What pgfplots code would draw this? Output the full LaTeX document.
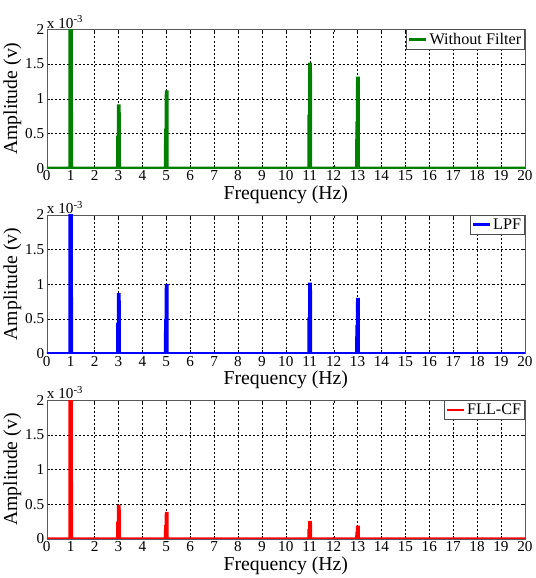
\documentclass[border=0pt]{standalone}
\usepackage{pgfplots}
\pgfplotsset{compat=1.18}
\usepackage{fontspec}
\setmainfont{Liberation Serif}
\definecolor{mgreen}{RGB}{0,128,0}
\pgfplotsset{
  panel/.style={
    width=472pt, height=137pt, scale only axis,
    xmin=0, xmax=20, ymin=0, ymax=2,
    xtick={0,1,...,20}, ytick={0,0.5,1,1.5,2},
    yticklabels={0,0.5,1,1.5,2},
    grid=major, major grid style={black, dashed, line width=0.4pt, dash pattern=on 2pt off 2pt},
    axis line style={gray!70!black},
    tick align=inside, tick style={black}, major tick length=3pt,
    tick label style={font=\fontsize{15}{15}\selectfont},
    xticklabel style={yshift=1pt},
    yticklabel style={xshift=1pt},
    label style={font=\fontsize{19.5}{19.5}\selectfont},
    /pgf/number format/assume math mode=true,
    xlabel={Frequency (Hz)}, ylabel={Amplitude (v)},
    xlabel style={yshift=2pt}, ylabel style={yshift=-3pt},
    legend style={at={(1,1)}, anchor=north east, font=\fontsize{16}{16}\selectfont, draw=black!70, inner sep=1.5pt, row sep=0pt},
    legend image post style={line width=2.4pt},
    legend cell align=left,
    clip=true,
  },
}
\begin{document}
\begin{tikzpicture}
\begin{axis}[panel, name=a1]
\addplot[mgreen, line width=2.8pt, line join=miter] coordinates {
(0,0)(0.96,0)(0.965,2.2)(1.035,2.2)(1.04,0)
(2.96,0)(2.965,0.45)(2.99,0.45)(2.995,0.9)(3.035,0.9)(3.04,0)
(4.96,0)(4.965,0.55)(4.99,0.55)(4.995,1.1)(5.035,1.1)(5.04,0)
(10.96,0)(10.965,0.75)(10.99,0.75)(10.995,1.5)(11.035,1.5)(11.04,0)
(12.96,0)(12.965,0.65)(12.99,0.65)(12.995,1.3)(13.035,1.3)(13.04,0)
(20,0)};
\addlegendentry{Without Filter}
\end{axis}
\node[anchor=south west, font=\fontsize{15}{15}\selectfont, inner sep=0pt, yshift=1pt] at (a1.north west) {x 10\textsuperscript{-3}};
\path (a1.north west) ++(0,29pt) coordinate (topedge);
\path (topedge) -- ++(1pt,0);
\begin{axis}[panel, name=a2, at={(0,-183pt)}]
\addplot[blue, line width=2.8pt, line join=miter] coordinates {
(0,0)(0.96,0)(0.965,2.2)(1.035,2.2)(1.04,0)
(2.96,0)(2.965,0.42)(2.99,0.42)(2.995,0.85)(3.035,0.85)(3.04,0)
(4.96,0)(4.965,0.48)(4.99,0.48)(4.995,0.98)(5.035,0.98)(5.04,0)
(10.96,0)(10.965,0.5)(10.99,0.5)(10.995,1.0)(11.035,1.0)(11.04,0)
(12.96,0)(12.965,0.39)(12.99,0.39)(12.995,0.78)(13.035,0.78)(13.04,0)
(20,0)};
\addlegendentry{LPF}
\end{axis}
\node[anchor=south west, font=\fontsize{15}{15}\selectfont, inner sep=0pt, yshift=1pt] at (a2.north west) {x 10\textsuperscript{-3}};
\begin{axis}[panel, name=a3, at={(0,-366pt)}]
\addplot[red, line width=2.8pt, line join=miter] coordinates {
(0,0)(0.96,0)(0.965,2.2)(1.035,2.2)(1.04,0)
(2.96,0)(2.965,0.23)(2.99,0.23)(2.995,0.47)(3.035,0.47)(3.04,0)
(4.96,0)(4.965,0.18)(4.99,0.18)(4.995,0.37)(5.035,0.37)(5.04,0)
(10.96,0)(10.965,0.12)(10.99,0.12)(10.995,0.24)(11.035,0.24)(11.04,0)
(12.96,0)(12.965,0.08)(12.99,0.08)(12.995,0.17)(13.035,0.17)(13.04,0)
(20,0)};
\addlegendentry{FLL-CF}
\end{axis}
\node[anchor=south west, font=\fontsize{15}{15}\selectfont, inner sep=0pt, yshift=1pt] at (a3.north west) {x 10\textsuperscript{-3}};
\end{tikzpicture}
\end{document}
